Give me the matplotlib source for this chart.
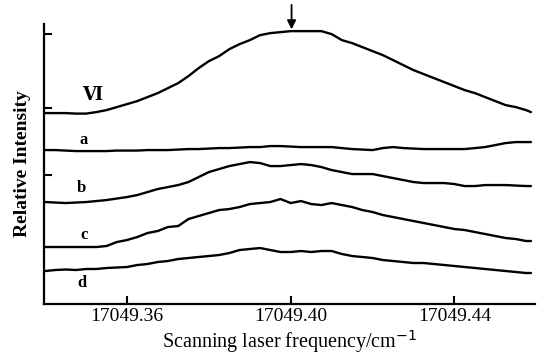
import matplotlib.pyplot as plt

freq = [17049.3400, 17049.3425, 17049.3450, 17049.3475, 17049.3500, 17049.3525,
        17049.3550, 17049.3575, 17049.3600, 17049.3625, 17049.3650, 17049.3675,
        17049.3700, 17049.3725, 17049.3750, 17049.3775, 17049.3800, 17049.3825,
        17049.3850, 17049.3875, 17049.3900, 17049.3925, 17049.3950, 17049.3975,
        17049.4000, 17049.4025, 17049.4050, 17049.4075, 17049.4100, 17049.4125,
        17049.4150, 17049.4175, 17049.4200, 17049.4225, 17049.4250, 17049.4275,
        17049.4300, 17049.4325, 17049.4350, 17049.4375, 17049.4400, 17049.4425,
        17049.4450, 17049.4475, 17049.4500, 17049.4525, 17049.4550, 17049.4575,
        17049.4587]

curve_vi = [191, 191, 191, 190.5, 190.5, 192, 194, 197, 200, 203, 207, 211, 216, 221,
            228, 236, 243, 248, 255, 260, 264, 269, 271, 272, 273, 273, 273, 273, 270,
            264, 261, 257, 253, 249, 244, 239, 234, 230, 226, 222, 218, 214, 211, 207,
            203, 199, 197, 194, 192]
curve_a = [154, 154, 153.5, 153, 153, 153, 153, 153.5, 153.5, 153.5, 154, 154, 154,
           154.5, 155, 155, 155.5, 156, 156, 156.5, 157, 157, 158, 158, 157.5, 157,
           157, 157, 157, 156, 155, 154.5, 154, 156, 157, 156, 155.5, 155, 155, 155,
           155, 155, 156, 157, 159, 161, 162, 162, 162]
curve_b = [102, 101.5, 101, 101.5, 102, 103, 104, 105.5, 107, 109, 112, 115, 117, 119,
           122, 127, 132, 135, 138, 140, 142, 141, 138, 138, 139, 140, 139, 137, 134,
           132, 130, 130, 130, 128, 126, 124, 122, 121, 121, 121, 120, 118, 118, 119,
           119, 119, 118.5, 118, 118]
curve_c = [57, 57, 57, 57, 57, 57, 58, 62, 64, 67, 71, 73, 77, 78, 85, 88, 91, 94, 95,
           97, 100, 101, 102, 105, 101, 103, 100, 99, 101, 99, 97, 94, 92, 89, 87, 85,
           83, 81, 79, 77, 75, 74, 72, 70, 68, 66, 65, 63, 63]
curve_d = [33, 34, 34.5, 34, 35, 35, 36, 36.5, 37, 39, 40, 42, 43, 45, 46, 47, 48, 49,
           51, 54, 55, 56, 54, 52, 52, 53, 52, 53, 53, 50, 48, 47, 46, 44, 43, 42, 41,
           41, 40, 39, 38, 37, 36, 35, 34, 33, 32, 31, 31]

curves = [curve_vi, curve_a, curve_b, curve_c, curve_d]
names = ["Ⅵ", "a", "b", "c", "d"]
label_x = [17049.3490, 17049.3485, 17049.3476, 17049.3485, 17049.3478]
label_y = [209, 164, 116, 69, 21]

xticks = [17049.36, 17049.40, 17049.44]
xtick_labels = ["17049.36", "17049.40", "17049.44"]

serif = ["Liberation Serif", "DejaVu Serif"]

fig = plt.figure(figsize=(5.41, 3.55), dpi=100)
ax = fig.add_axes([0.0813, 0.1437, 0.9077, 0.7883])

for y in curves:
    ax.plot(freq, y, color="black", lw=1.7, solid_capstyle="round")

for name, lx, ly in zip(names, label_x, label_y):
    ax.text(lx, ly, name, family=serif, fontsize=13 if name == "Ⅵ" else 12,
            fontweight="bold", ha="left", va="center")

# arrow marking the line centre
ax.annotate("", xy=(17049.4002, 272), xytext=(17049.4002, 302),
            arrowprops=dict(arrowstyle="-|>", color="black", lw=1.3, mutation_scale=13),
            annotation_clip=False)

ax.set_xlim(17049.3397, 17049.4597)
ax.set_ylim(0, 280)

ax.spines["top"].set_visible(False)
ax.spines["right"].set_visible(False)
ax.spines["left"].set_linewidth(1.6)
ax.spines["bottom"].set_linewidth(1.6)

ax.set_xticks(xticks)
ax.set_xticklabels(xtick_labels, family=serif, fontsize=14)
ax.set_yticks([129, 196, 270])
ax.set_yticklabels([])
ax.tick_params(axis="both", direction="in", length=6, width=1.5)
ax.tick_params(axis="x", pad=3)

ax.set_xlabel("Scanning laser frequency/cm$^{-1}$", family=serif, fontsize=14.5, labelpad=2)
ax.set_ylabel("Relative Intensity", family=serif, fontsize=14, fontweight="bold", labelpad=6)

fig.savefig("out.png", dpi=100)
